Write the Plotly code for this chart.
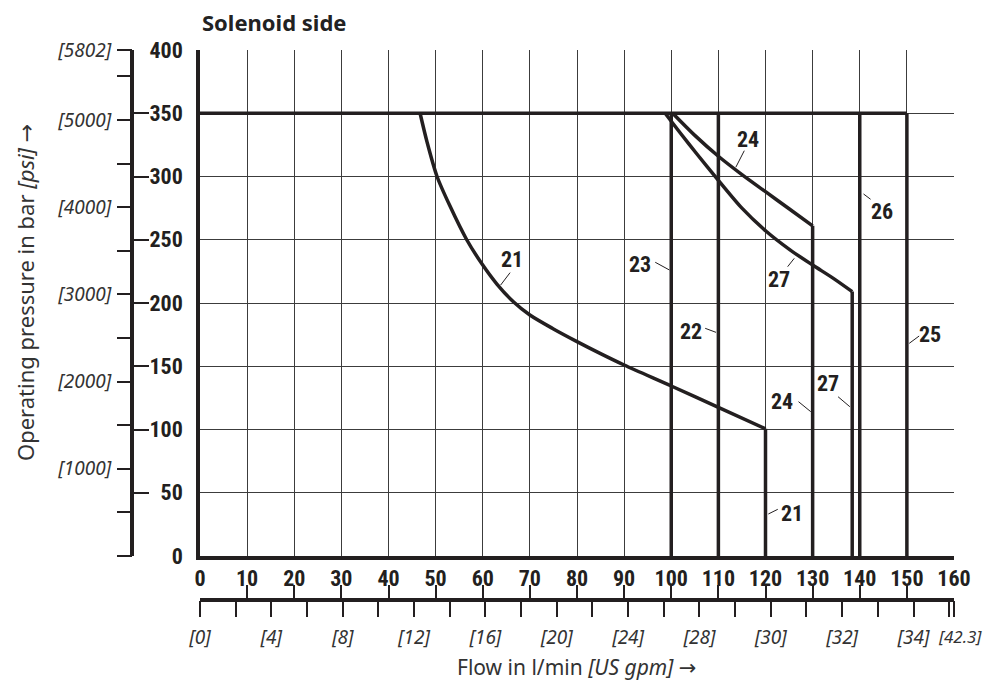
import plotly.graph_objects as go

# ---------------- data ----------------
flow_ticks = list(range(0, 161, 10))            # l/min
bar_ticks = list(range(0, 401, 50))             # bar
psi_major = [0, 1000, 2000, 3000, 4000, 5000, 5801.5]
psi_major_text = ["", "[1000]", "[2000]", "[3000]", "[4000]", "[5000]", "[5802]"]
psi_minor = [500, 1500, 2500, 3500, 4500, 5500]
gpm_major = [0, 4, 8, 12, 16, 20, 24, 28, 32, 36, 40, 42.2675]
gpm_major_text = ["[0]", "[4]", "[8]", "[12]", "[16]", "[20]", "[24]", "[28]", "[30]", "[32]", "[34]", "[42.3]"]
gpm_minor = [2, 6, 10, 14, 18, 22, 26, 30, 34, 38, 42]

# pressure limit line
limit_q = [0, 150]
limit_p = [350, 350]

# curve 21
c21_q = [46.7, 48.2, 50.3, 53, 56.6, 60, 63, 66.5, 70, 75, 80, 85, 90, 100, 110, 120]
c21_p = [350, 327, 300, 277, 250, 230, 215, 201, 190.5, 179.5, 169.5, 160, 151, 134.4, 117.5, 100.6]
c21_drop_q = [120, 120]
c21_drop_p = [100.6, 0]

# curve 24
c24_q = [100.3, 105, 110, 115, 120, 125, 130]
c24_p = [350, 332.5, 316, 301.5, 288, 274.5, 261]
c24_drop_q = [130, 130]
c24_drop_p = [261, 0]

# curve 27
c27_q = [98.7, 102, 105.4, 110, 115, 120.2, 125.2, 130, 134.4, 138.4]
c27_p = [350, 334, 318, 297, 275, 256.5, 242, 230, 219.5, 209]
c27_drop_q = [138.4, 138.4]
c27_drop_p = [209, 0]

# straight verticals (curves 23, 22, 26, 25)
vert_q = {"23": 100, "22": 110, "26": 140, "25": 150}
vert_top = 350

# curve labels: text, label position, leader start, leader end
lbl_text = ["21", "21", "22", "23", "24", "24", "26", "27", "27", "25"]
lbl_q = [66.1, 125.6, 104.1, 93.4, 116.2, 123.6, 144.7, 122.9, 133.3, 154.9]
lbl_p = [234.0, 33.8, 177.3, 230.8, 329.4, 122.0, 272.2, 218.2, 136.5, 175.3]
lead_q0 = [65.8, 122.6, 107.2, 96.6, 115.5, 127.0, 140.8, 124.7, 135.4, 150.5]
lead_p0 = [224.0, 36.9, 180.0, 232.2, 320.4, 122.0, 286.2, 228.7, 125.9, 168.1]
lead_q1 = [63.8, 120.6, 109.5, 99.6, 113.7, 129.6, 142.3, 126.1, 137.9, 152.6]
lead_p1 = [214.2, 33.2, 176.8, 226.1, 307.3, 114.1, 282.0, 235.3, 118.0, 173.9]

# ---------------- style ----------------
INK = "#231f20"
GRID = "#3c3c3c"
TXT = "#333333"
COND = "Liberation Sans Narrow, Roboto Condensed, Arial Narrow, sans-serif"
SANS = "Noto Sans, Open Sans, sans-serif"
ARROW = "<span style='font-family:DejaVu Sans'>→</span>"
LW = 3.5

OFF = 8                      # default page body margin (both sides)
W, H = 995 - 2 * OFF, 692 - 2 * OFF
PX0, PY0, PX1, PY1 = 100, 50, 954, 652     # page coords of the full plot area
ML, MT = PX0 - OFF, PY0 - OFF
MR, MB = W - (PX1 - OFF), H - (PY1 - OFF)
PW, PH = W - ML - MR, H - MT - MB


def paper_x(px):
    return (px - PX0) / PW


def paper_y(py):
    return (PY1 - py) / PH


x_dom0 = paper_x(200)
y_dom0 = paper_y(556)
yaux_pos = paper_x(132)
xaux_pos = paper_y(600)

# the end label of the gpm scale sits just right of its tick: drawn as an annotation
gpm_tick_text = gpm_major_text[:-1] + [""]

fig = go.Figure()


def line(q, p, width=LW, shape="linear"):
    fig.add_trace(go.Scatter(x=q, y=p, mode="lines",
                             line=dict(color=INK, width=width, shape=shape, smoothing=0.8),
                             hoverinfo="skip", showlegend=False))


line(limit_q, limit_p)
line(c21_q, c21_p, shape="spline")
line(c21_drop_q, c21_drop_p)
line(c24_q, c24_p, shape="spline")
line(c24_drop_q, c24_drop_p)
line(c27_q, c27_p, shape="spline")
line(c27_drop_q, c27_drop_p)
for k, q in vert_q.items():
    line([q, q], [vert_top, 0])

for i in range(len(lbl_text)):
    line([lead_q0[i], lead_q1[i]], [lead_p0[i], lead_p1[i]], width=1)

# invisible anchors so the auxiliary scales are drawn
for xa, ya in [("x", "y2"), ("x", "y3"), ("x2", "y"), ("x3", "y")]:
    fig.add_trace(go.Scatter(x=[0], y=[0], xaxis=xa, yaxis=ya, mode="markers",
                             marker=dict(opacity=0, size=1), hoverinfo="skip", showlegend=False))

annotations = []
for t, q, p in zip(lbl_text, lbl_q, lbl_p):
    annotations.append(dict(x=q, y=p, xref="x", yref="y", text=t, showarrow=False,
                            font=dict(family=COND, size=22, color=INK, weight="bold"),
                            xanchor="center", yanchor="middle"))

annotations += [
    dict(x=gpm_major[-1], y=paper_y(636), xref="x3", yref="paper", text=gpm_major_text[-1],
         showarrow=False, xanchor="left", yanchor="middle", xshift=-18,
         font=dict(family=SANS, size=17, color=TXT, style="italic")),
    dict(x=paper_x(200), y=paper_y(22), xref="paper", yref="paper", text="Solenoid side",
         showarrow=False, xanchor="left", yanchor="middle",
         font=dict(family=SANS, size=22, color="#222222", weight="bold")),
    dict(x=paper_x(25), y=paper_y(293), xref="paper", yref="paper",
         text="Operating pressure in bar <i>[psi]</i> " + ARROW, textangle=-90, showarrow=False,
         xanchor="center", yanchor="middle", font=dict(family=SANS, size=22, color=TXT)),
    dict(x=paper_x(576), y=paper_y(667), xref="paper", yref="paper",
         text="Flow in l/min <i>[US gpm]</i> " + ARROW, showarrow=False,
         xanchor="center", yanchor="middle", font=dict(family=SANS, size=21, color=TXT)),
]

fig.update_layout(
    width=W, height=H, margin=dict(l=ML, r=MR, t=MT, b=MB, autoexpand=False),
    paper_bgcolor="white", plot_bgcolor="white", showlegend=False, hovermode=False,
    annotations=annotations,
    xaxis=dict(domain=[x_dom0, 1], range=[0, 160], tickvals=flow_ticks, tickangle=0,
               showline=True, linewidth=LW, linecolor=INK, ticks="", zeroline=False,
               showgrid=True, gridcolor=GRID, gridwidth=1.3, ticklabelstandoff=0,
               tickfont=dict(family=COND, size=22, color=INK, weight="bold")),
    yaxis=dict(domain=[y_dom0, 1], range=[0, 400], tickvals=bar_ticks,
               showline=True, linewidth=LW, linecolor=INK, ticks="", zeroline=False,
               showgrid=True, gridcolor=GRID, gridwidth=1.3, ticklabelstandoff=9,
               tickfont=dict(family=COND, size=22, color=INK, weight="bold")),
    yaxis2=dict(overlaying="y", anchor="free", position=yaux_pos, side="left",
                range=[0, 400], tickvals=bar_ticks, showticklabels=False,
                showline=True, linewidth=LW, linecolor=INK, showgrid=False, zeroline=False,
                ticks="inside", ticklen=15, tickwidth=1.5, tickcolor=INK),
    yaxis3=dict(overlaying="y", anchor="free", position=yaux_pos, side="left",
                range=[0, 5801.5], tickvals=psi_major, ticktext=psi_major_text,
                showline=False, showgrid=False, zeroline=False,
                ticks="outside", ticklen=15, tickwidth=1.5, tickcolor=INK, ticklabelstandoff=2,
                minor=dict(tickvals=psi_minor, ticks="outside", ticklen=15, tickwidth=1.5,
                           tickcolor=INK, showgrid=False),
                tickfont=dict(family=SANS, size=19, color=TXT, style="italic")),
    xaxis2=dict(overlaying="x", anchor="free", position=xaux_pos, side="bottom",
                range=[0, 160], tickvals=flow_ticks, showticklabels=False,
                showline=True, linewidth=LW, linecolor=INK, showgrid=False, zeroline=False,
                ticks="inside", ticklen=13, tickwidth=1.5, tickcolor=INK),
    xaxis3=dict(overlaying="x", anchor="free", position=xaux_pos, side="bottom",
                range=[0, 42.27], tickvals=gpm_major, ticktext=gpm_tick_text, tickangle=0,
                showline=False, showgrid=False, zeroline=False,
                ticks="outside", ticklen=16, tickwidth=1.5, tickcolor=INK, ticklabelstandoff=4,
                minor=dict(tickvals=gpm_minor, ticks="outside", ticklen=16, tickwidth=1.5,
                           tickcolor=INK, showgrid=False),
                tickfont=dict(family=SANS, size=19, color=TXT, style="italic")),
)

fig.write_html("out.html")
